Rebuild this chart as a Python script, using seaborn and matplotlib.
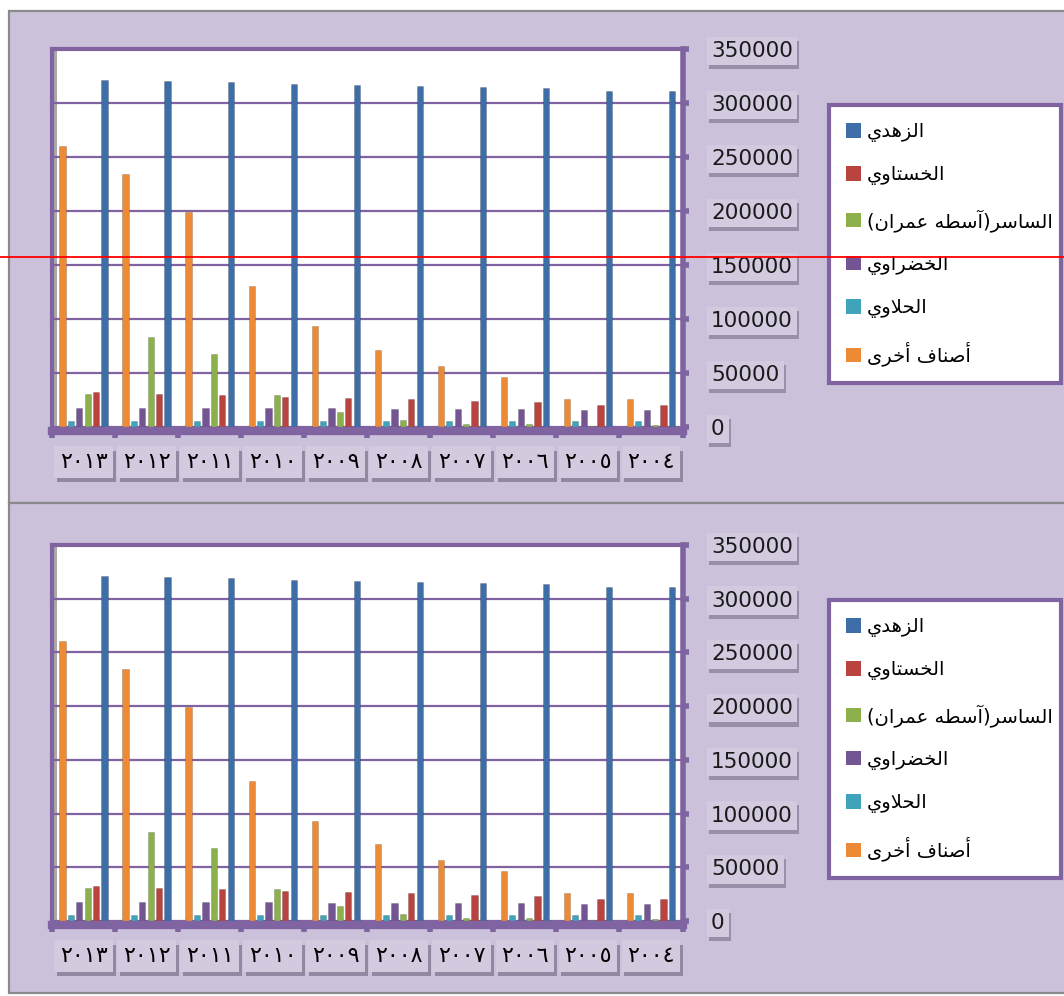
import numpy as np
import pandas as pd
import matplotlib
matplotlib.use("Agg")
import matplotlib.pyplot as plt
import matplotlib.patheffects as pe
from matplotlib.patches import Rectangle, Patch
from matplotlib.lines import Line2D
import seaborn as sns

# ---------------- data ----------------
years = ["2013", "2012", "2011", "2010", "2009", "2008", "2007", "2006", "2005", "2004"]
year_labels = ["٢٠١٣", "٢٠١٢", "٢٠١١", "٢٠١٠", "٢٠٠٩", "٢٠٠٨", "٢٠٠٧", "٢٠٠٦", "٢٠٠٥", "٢٠٠٤"]

zahdi    = [321300, 320400, 319400, 317600, 316700, 315700, 314800, 313900, 311100, 311100]
khastawi = [32400, 30600, 29600, 27800, 26900, 25900, 24100, 23100, 20400, 20400]
sayer    = [30600, 83300, 67600, 29600, 13900, 6500, 2800, 2500, 1000, 1500]
khadrawi = [17600, 17600, 17600, 17400, 17200, 17000, 16800, 16500, 15700, 15700]
halawi   = [5600, 5600, 5600, 5600, 5600, 5600, 5600, 5600, 5600, 5600]
others   = [260200, 234300, 199100, 130600, 93500, 71300, 56500, 46300, 25900, 25900]

series_names = ["الزهدي", "الخستاوي", "الساسر(آسطه عمران)", "الخضراوي", "الحلاوي", "أصناف أخرى"]
series_values = [zahdi, khastawi, sayer, khadrawi, halawi, others]
series_colors = ["#3E6EA8", "#B8433F", "#8CB04C", "#735594", "#3FA3BC", "#EC8A36"]
# drawing order inside each year group (left to right)
draw_order = ["أصناف أخرى", "الحلاوي", "الخضراوي", "الساسر(آسطه عمران)", "الخستاوي", "الزهدي"]

yticks = [0, 50000, 100000, 150000, 200000, 250000, 300000, 350000]

# ---------------- arabic shaping (presentation forms) ----------------
FORMS = {
    '\u0627': ('\uFE8D', '\uFE8E', None, None),
    '\u0623': ('\uFE83', '\uFE84', None, None),
    '\u0622': ('\uFE81', '\uFE82', None, None),
    '\u062A': ('\uFE95', '\uFE96', '\uFE97', '\uFE98'),
    '\u062D': ('\uFEA1', '\uFEA2', '\uFEA3', '\uFEA4'),
    '\u062E': ('\uFEA5', '\uFEA6', '\uFEA7', '\uFEA8'),
    '\u062F': ('\uFEA9', '\uFEAA', None, None),
    '\u0631': ('\uFEAD', '\uFEAE', None, None),
    '\u0632': ('\uFEAF', '\uFEB0', None, None),
    '\u0633': ('\uFEB1', '\uFEB2', '\uFEB3', '\uFEB4'),
    '\u0635': ('\uFEB9', '\uFEBA', '\uFEBB', '\uFEBC'),
    '\u0636': ('\uFEBD', '\uFEBE', '\uFEBF', '\uFEC0'),
    '\u0637': ('\uFEC1', '\uFEC2', '\uFEC3', '\uFEC4'),
    '\u0639': ('\uFEC9', '\uFECA', '\uFECB', '\uFECC'),
    '\u0641': ('\uFED1', '\uFED2', '\uFED3', '\uFED4'),
    '\u0644': ('\uFEDD', '\uFEDE', '\uFEDF', '\uFEE0'),
    '\u0645': ('\uFEE1', '\uFEE2', '\uFEE3', '\uFEE4'),
    '\u0646': ('\uFEE5', '\uFEE6', '\uFEE7', '\uFEE8'),
    '\u0647': ('\uFEE9', '\uFEEA', '\uFEEB', '\uFEEC'),
    '\u0648': ('\uFEED', '\uFEEE', None, None),
    '\u0649': ('\uFEEF', '\uFEF0', None, None),
    '\u064A': ('\uFEF1', '\uFEF2', '\uFEF3', '\uFEF4'),
}
LAM_ALEF = {'\u0627': ('\uFEFB', '\uFEFC'), '\u0623': ('\uFEF7', '\uFEF8'),
            '\u0622': ('\uFEF5', '\uFEF6')}


def shape(s):
    def joins_next(c):
        return c in FORMS and FORMS[c][2] is not None
    out = []
    i = 0
    while i < len(s):
        c = s[i]
        if c not in FORMS:
            out.append(c)
            i += 1
            continue
        prev_joins = i > 0 and joins_next(s[i - 1])
        if c == '\u0644' and i + 1 < len(s) and s[i + 1] in LAM_ALEF:
            iso, fin = LAM_ALEF[s[i + 1]]
            out.append(fin if prev_joins else iso)
            i += 2
            continue
        nxt = s[i + 1] if i + 1 < len(s) else None
        next_joins = joins_next(c) and nxt in FORMS
        iso, fin, ini, med = FORMS[c]
        if prev_joins and next_joins:
            out.append(med)
        elif prev_joins:
            out.append(fin)
        elif next_joins:
            out.append(ini)
        else:
            out.append(iso)
        i += 1
    vis = ''.join(out)[::-1]
    return vis.translate(str.maketrans('()', ')('))


# ---------------- dataframe ----------------
rows = []
for name, vals in zip(series_names, series_values):
    for y, v in zip(years, vals):
        rows.append({"year": y, "variety": name, "value": v})
df = pd.DataFrame(rows)
palette = dict(zip(series_names, series_colors))

# ---------------- figure ----------------
plt.rcParams['font.family'] = ['DejaVu Sans']
W, H = 1064, 996
fig = plt.figure(figsize=(W / 100, H / 100), dpi=100, facecolor="white")

LAV = "#CCC1DA"
PURPLE = "#8064A2"
BOXFC = "#D3CAE0"
SHADOW = "#3a3450"


def fx(x):
    return x / W


def fy(y):
    return 1 - y / H


# panel backgrounds
for (y0, y1) in [(11, 503), (503, 993)]:
    fig.add_artist(Rectangle((fx(9), fy(y1)), fx(1075) - fx(9), fy(y0) - fy(y1),
                             transform=fig.transFigure, facecolor=LAV,
                             edgecolor="#8A8A8A", linewidth=1.6, zorder=-2))

panels = [
    dict(ax_top=49, ax_bot=427, leg_top=105, leg_bot=385),
    dict(ax_top=545, ax_bot=921, leg_top=600, leg_bot=878),
]
ax_left, ax_right = 52, 682.5

for p in panels:
    ax = fig.add_axes([fx(ax_left), fy(p["ax_bot"]), fx(ax_right) - fx(ax_left),
                       fy(p["ax_top"]) - fy(p["ax_bot"])])
    ax.set_facecolor("white")
    sns.barplot(data=df, x="year", y="value", hue="variety", order=years,
                hue_order=draw_order, palette=palette, width=0.8, gap=0.26,
                saturation=1, legend=False, ax=ax, errorbar=None,
                edgecolor="#00000030", linewidth=0.6)
    ax.set_ylim(0, 350000)
    ax.set_xlim(-0.5, 9.5)
    ax.set_xlabel("")
    ax.set_ylabel("")
    ax.set_axisbelow(True)
    ax.yaxis.grid(True, color=PURPLE, linewidth=1.6)
    ax.xaxis.grid(False)

    # spines
    for s in ["top", "left", "right", "bottom"]:
        ax.spines[s].set_color(PURPLE)
    ax.spines["top"].set_linewidth(3)
    ax.spines["left"].set_linewidth(3)
    ax.spines["right"].set_linewidth(4)
    ax.spines["bottom"].set_linewidth(6)
    ax.spines["bottom"].set_position(("outward", 3))

    # left 3D wall
    ax.add_patch(Rectangle((0, 0), 0.008, 1, transform=ax.transAxes,
                           facecolor="#A9A9A9", edgecolor="none", zorder=0.5))

    # y axis on right
    ax.yaxis.tick_right()
    ax.set_yticks(yticks)
    ax.set_yticklabels([str(v) for v in yticks])
    ax.tick_params(axis="y", which="major", direction="out", length=4, width=4,
                   color=PURPLE, pad=16.5, labelsize=15.5, labelcolor="#1a1a1a",
                   left=False, right=True)

    # x axis
    ax.set_xticks(range(len(years)))
    ax.set_xticklabels(year_labels)
    ax.set_xticks(np.arange(-0.5, len(years), 1), minor=True)
    ax.tick_params(axis="x", which="major", length=0, pad=15, labelsize=16,
                   labelcolor="black")
    ax.tick_params(axis="x", which="minor", length=5, width=4, color=PURPLE)

    for lbl in ax.get_yticklabels():
        lbl.set_bbox(dict(boxstyle="square,pad=0.2", facecolor=BOXFC,
                          edgecolor="none"))
        lbl.get_bbox_patch().set_path_effects(
            [pe.withSimplePatchShadow(offset=(1.5, -3), shadow_rgbFace=SHADOW, alpha=0.35)])
    for lbl in ax.get_xticklabels():
        lbl.set_bbox(dict(boxstyle="square,pad=0.25", facecolor=BOXFC,
                          edgecolor="none"))
        lbl.get_bbox_patch().set_path_effects(
            [pe.withSimplePatchShadow(offset=(2, -3.5), shadow_rgbFace=SHADOW, alpha=0.4)])

    # legend
    handles = [Patch(facecolor=c, edgecolor="none") for c in series_colors]
    labels = [shape(n) for n in series_names]
    lx0, lx1 = 829, 1061
    leg = fig.legend(handles, labels, loc="upper left",
                     bbox_to_anchor=(fx(lx0), fy(p["leg_bot"]), fx(lx1) - fx(lx0),
                                     fy(p["leg_top"]) - fy(p["leg_bot"])),
                     mode="expand", borderaxespad=0, fontsize=14,
                     handlelength=0.77, handleheight=0.77, handletextpad=0.3,
                     labelspacing=1.2, borderpad=0.88, fancybox=False,
                     framealpha=1, facecolor="white", edgecolor=PURPLE)
    leg.get_frame().set_linewidth(3)

# red horizontal line across the figure
fig.add_artist(Line2D([0, 1], [fy(257), fy(257)], transform=fig.transFigure,
                      color="#FF0000", linewidth=1.3, zorder=20))

fig.savefig("out.png", dpi=100, facecolor="white")
